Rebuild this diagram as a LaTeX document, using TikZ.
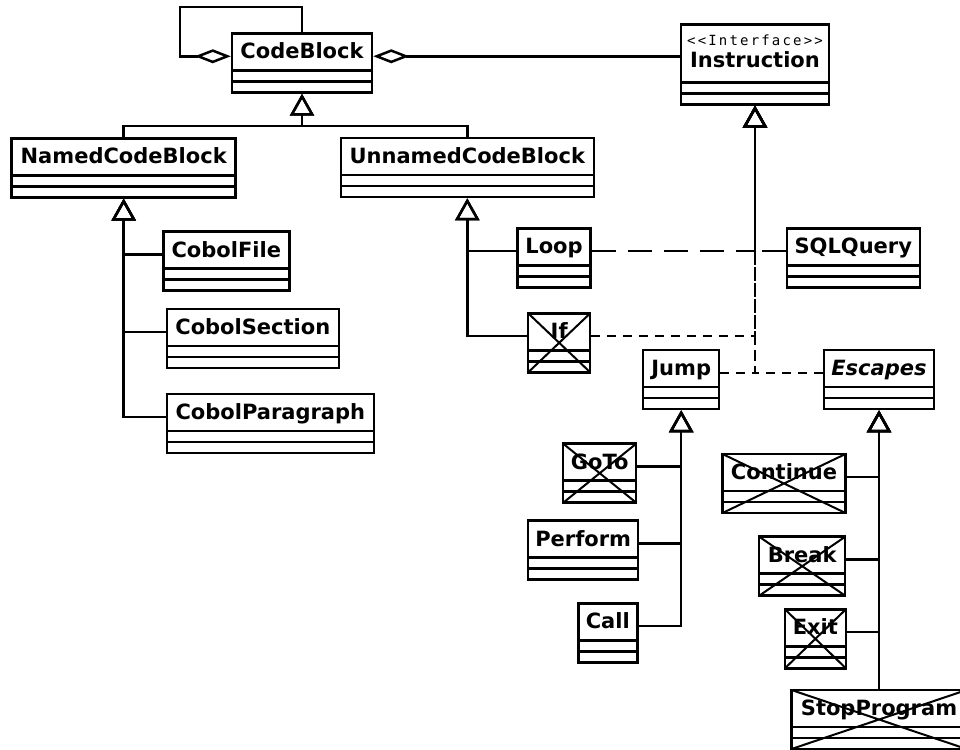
\documentclass[tikz,border=0pt]{standalone}
\usepackage{fontspec}
\setmainfont{DejaVu Sans}
\newfontfamily\stereofont[LetterSpace=15.5,Ligatures=TeXOff]{DejaVu Sans Mono}
\usetikzlibrary{arrows.meta}
\newcommand{\classlines}{%
  \draw[line width=2.5pt]
    ([yshift=11pt]path picture bounding box.south west) -- ([yshift=11pt]path picture bounding box.south east)
    ([yshift=22pt]path picture bounding box.south west) -- ([yshift=22pt]path picture bounding box.south east);}
\newcommand{\classcross}{%
  \draw[line width=2pt]
    (path picture bounding box.south west) -- (path picture bounding box.north east)
    (path picture bounding box.north west) -- (path picture bounding box.south east);}
\tikzstyle{umlclass} = [rectangle, draw, line width=2.5pt, fill=white, inner sep=0pt,
  minimum height=59pt, text height=20pt, text depth=28pt, path picture={\classlines}]
\tikzstyle{crossed} = [umlclass, path picture={\classlines\classcross}]
\tikzstyle{inherit} = [draw, line width=2.5pt, -{Triangle[open, length=22pt, width=24pt]}]
\tikzstyle{realize} = [inherit, dash pattern=on 9pt off 7pt]
\tikzstyle{realizelong} = [inherit, dash pattern=on 24pt off 12pt]
\tikzstyle{aggregate} = [draw, line width=2.5pt, {Diamond[open, length=36pt, width=14pt]}-]

\begin{document}
\begin{tikzpicture}[x=1pt, y=-1pt, font=\fontsize{21}{25}\selectfont\bfseries]
    \useasboundingbox (0,0) rectangle (960,749);

    \node[umlclass, minimum width=140pt] (code) at (302,63) {CodeBlock};
    \node[umlclass, minimum width=148pt, minimum height=80pt, align=center,
      text height=36pt, text depth=29pt, font=\fontsize{21}{22.4}\selectfont\bfseries]
      (instr) at (755,64.3) {{\stereofont\mdseries\fontsize{14}{15}\selectfont <<Interface>>}\\Instruction};

    \node[umlclass, minimum width=224pt] (named) at (123.7,167.8) {NamedCodeBlock};
    \node[umlclass, minimum width=253pt] (unnamed) at (467.3,167.5) {UnnamedCodeBlock};
    \node[umlclass, minimum width=126pt] (cfile) at (226.3,261.2) {CobolFile};
    \node[umlclass, minimum width=172pt] (csection) at (252.8,338.5) {CobolSection};
    \node[umlclass, minimum width=207pt] (cpara) at (270.3,423.5) {CobolParagraph};

    \node[umlclass, minimum width=73pt] (loop) at (554,257.8) {Loop};
    \node[crossed, minimum width=62pt] (ifstmt) at (559.2,342.8) {If};
    \node[umlclass, minimum width=133pt] (sql) at (853.3,257.8) {SQLQuery};
    \node[umlclass, minimum width=76pt] (jump) at (681.2,379.5) {Jump};
    \node[umlclass, minimum width=110pt, font=\fontsize{21}{25}\selectfont\bfseries\itshape]
      (escapes) at (879,379.5) {Escapes};

    \node[crossed, minimum width=73pt] (goto) at (599.7,473.2) {GoTo};
    \node[umlclass, minimum width=110pt] (perform) at (583.2,550.2) {Perform};
    \node[umlclass, minimum width=59pt] (call) at (607.8,632.8) {Call};

    \node[crossed, minimum width=123pt] (continue) at (784,483.5) {Continue};
    \node[crossed, minimum width=86pt] (break) at (802.2,566.2) {Break};
    \node[crossed, minimum width=61pt] (exit) at (815.4,638.8) {Exit};
    \node[crossed, minimum width=175pt] (stop) at (879,719.5) {StopProgram};

    % aggregations
    \coordinate (selfcorner) at (180,7);
    \draw[aggregate] (code.mid west) -| (selfcorner) -| (code.north);
    \draw[aggregate] (code.mid east) -- (code.mid east -| instr.west);

    % generalizations
    \draw[inherit] (named.north) -- ++(0,-11) -| (code.south);
    \draw[inherit] (unnamed.north) -- ++(0,-11) -| (code.south);
    \foreach \c in {cfile,csection,cpara}
      \draw[inherit] (\c.mid west) -| (named.south);
    \foreach \c in {loop,ifstmt}
      \draw[inherit] (\c.mid west) -| (unnamed.south);
    \foreach \c in {goto,perform,call}
      \draw[inherit] (\c.mid east) -| (jump.south);
    \foreach \c in {continue,break,exit}
      \draw[inherit] (\c.mid east) -| (escapes.south);
    \draw[inherit] (stop.north) -- (escapes.south);

    % realizations
    \draw[realizelong] (loop.mid east) -| (instr.south);
    \draw[realizelong] (sql.mid west) -| (instr.south);
    \draw[realize] (ifstmt.mid east) -| (instr.south);
    \draw[realize] (jump.mid east) -| (instr.south);
    \draw[realize] (escapes.mid west) -| (instr.south);
  \end{tikzpicture}
\end{document}
